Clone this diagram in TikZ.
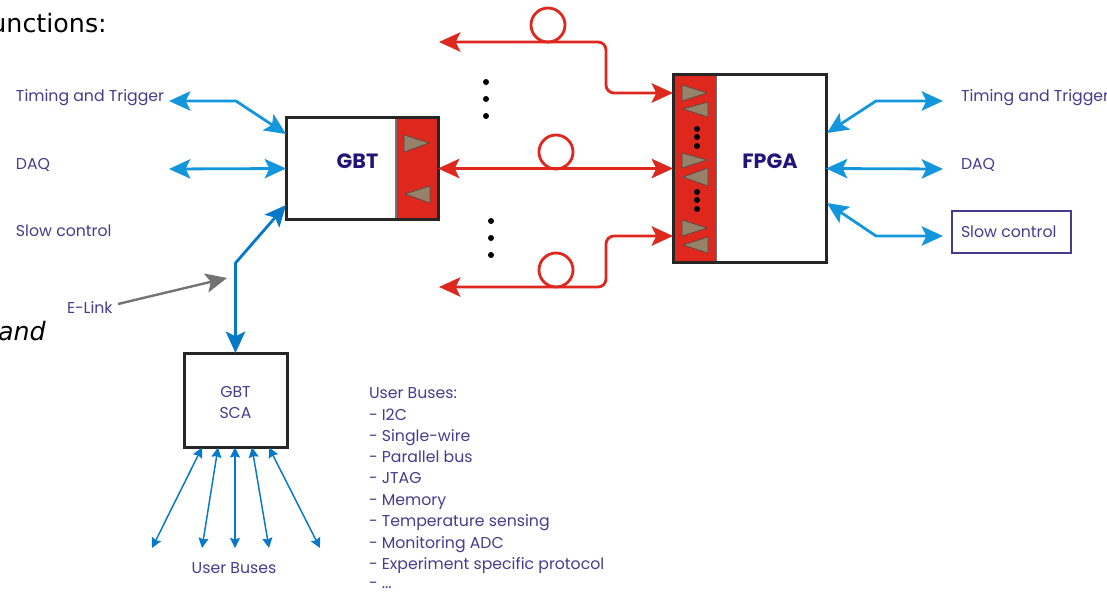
\documentclass[tikz,border=0pt]{standalone}
\usepackage{fontspec}
\setmainfont{Poppins}
\newfontfamily\slidefont{DejaVu Sans}
\usetikzlibrary{arrows.meta}
\definecolor{bluea}{RGB}{20,150,220}
\definecolor{blueb}{RGB}{5,120,200}
\definecolor{redl}{RGB}{222,40,30}
\definecolor{inkc}{RGB}{72,58,140}
\definecolor{titlec}{RGB}{35,20,120}
\definecolor{trif}{RGB}{150,130,105}
\tikzset{
  x=0.75pt,y=-0.75pt,
  hd/.tip={Stealth[length=16pt,width=14.5pt,inset=3.5pt]},
  boxn/.style={draw=black!85,line width=2.25pt,fill=white,inner sep=0,outer sep=0,rectangle},
  panel/.style={fill=redl,inner sep=0,outer sep=0,rectangle},
  lab/.style={text=inkc,inner sep=0,outer sep=0,anchor=base west,font=\fontsize{11.8}{13}\selectfont},
  ttl/.style={text=titlec,inner sep=0,outer sep=0,anchor=base,font=\fontsize{15.5}{17}\selectfont\bfseries},
  big/.style={line width=2.1pt,-hd},
  bigb/.style={line width=2.1pt,hd-hd},
  thin bus/.style={draw=blueb,line width=1.1pt,{Stealth[length=7.5pt,width=7.5pt,inset=1pt]}-{Stealth[length=7.5pt,width=7.5pt,inset=1pt]}},
  coil/.style={circle,draw=redl,line width=2.1pt,minimum size=34*0.75pt,inner sep=0,outer sep=0},
  tri/.style={fill=trif,draw=black!70,line width=0.5pt,line join=miter},
  dotn/.style={circle,fill=black,inner sep=0,outer sep=0,minimum size=4.5pt},
}
\begin{document}
\begin{tikzpicture}
\clip (0,0) rectangle (1107,592);
% slide fragments
\node[anchor=base east,inner sep=0,font=\slidefont\fontsize{19}{22}\selectfont] (frag1) at (107,33) {unctions:};
\node[anchor=base east,inner sep=0,font=\slidefont\fontsize{19}{22}\selectfont\itshape] (frag2) at (46,340) {and};
% boxes
\node[boxn,minimum width=152*0.75pt,minimum height=101*0.75pt] (gbt) at (362,168.5) {};
\node[panel,minimum width=41*0.75pt,minimum height=98*0.75pt] (gbtp) at (416.5,168.5) {};
\draw[black!55,line width=0.8pt] (gbtp.north west) -- (gbtp.south west);
\node[boxn,minimum width=153*0.75pt,minimum height=187*0.75pt] (fpga) at (749.5,168.5) {};
\node[panel,minimum width=42*0.75pt,minimum height=184*0.75pt] (fpgap) at (695.5,168.5) {};
\draw[black!55,line width=0.8pt] (fpgap.north east) -- (fpgap.south east);
\node[boxn,minimum width=103*0.75pt,minimum height=94*0.75pt] (sca) at (235.5,400) {};
\node[draw=inkc,line width=1pt,inner sep=0,outer sep=0,minimum width=119*0.75pt,minimum height=42*0.75pt] (slowbox) at (1011.5,232) {};
% triangles
\draw[tri] (404,135) -- (429,143) -- (404,152) -- cycle;
\draw[tri] (430,186) -- (405,194) -- (430,203) -- cycle;
\draw[tri] (682,85) -- (707,93) -- (682,101) -- cycle;
\draw[tri] (708,102) -- (683,109) -- (708,117) -- cycle;
\draw[tri] (682,153) -- (707,160) -- (682,168) -- cycle;
\draw[tri] (708,168) -- (683,177) -- (708,186) -- cycle;
\draw[tri] (682,220) -- (707,228) -- (682,236) -- cycle;
\draw[tri] (708,237) -- (683,245) -- (708,253) -- cycle;
\foreach \n/\x/\y in {p1/697/129,p2/697/137,p3/697/146,p4/697/192,p5/697/200,p6/697/209,
  q1/486/82,q2/486/99,q3/486/116,q4/491/221,q5/491/238,q6/491/255}
  \node[dotn] (\n) at (\x,\y) {};
% text
\node[ttl] (gbtt) at (357.5,168) {GBT};
\node[ttl] (fpgat) at (770,168) {FPGA};
\node[lab,anchor=base] (scaa) at (235.5,397) {GBT};
\node[lab,anchor=base] (scab) at (235.5,418) {SCA};
\node[lab] (ltt) at (16,102) {Timing and Trigger};
\node[lab] (ldaq) at (16,169) {DAQ};
\node[lab] (lsc) at (16,236.5) {Slow control};
\node[lab] (elink) at (67,313) {E-Link};
\node[lab] (rtt) at (961,102) {Timing and Trigger};
\node[lab] (rdaq) at (961,169) {DAQ};
\node[lab] (rsc) at (961,237) {Slow control};
\node[lab,anchor=base] (ub) at (234,573) {User Buses};
\foreach \n/\y/\t in {u0/398/{User Buses:},u1/420/{- I2C},u2/441/{- Single-wire},u3/462/{- Parallel bus},u4/483/{- JTAG},u5/505/{- Memory},u6/526/{- Temperature sensing},u7/548/{- Monitoring ADC},u8/569/{- Experiment specific protocol},u9/588/{- ...}}
  \node[lab] (\n) at (369,\y) {\t};
% named free ends
\coordinate (lt) at (169,101); \coordinate (ltb) at (236,101); \coordinate (gt) at (286,134);
\coordinate (ld) at (169,169);
\coordinate (sb) at (235.5,263); \coordinate (gs) at (286,205);
\coordinate (es) at (118,304); \coordinate (et) at (227,278);
\coordinate (ft) at (827,133); \coordinate (rtb) at (876,101); \coordinate (rte) at (943,101);
\coordinate (rd) at (943,169);
\coordinate (fs) at (827,203); \coordinate (rsb) at (876,236); \coordinate (rse) at (943,236);
% blue connectors
\draw[bigb,bluea] (lt) -- (ltb) -- (gt);
\draw[bigb,bluea] (ld) -- (gbt.west);
\draw[bigb,blueb,line join=round] (sca.north) -- (sb) -- (gs);
\draw[bigb,bluea] (ft) -- (rtb) -- (rte);
\draw[bigb,bluea] (fpga.east) -- (rd);
\draw[bigb,bluea] (fs) -- (rsb) -- (rse);
\draw[big,black!55,line width=1.8pt] (es) -- (et);
% user bus arrows
\foreach \n/\a/\b in {b1/202/152,b2/218/202,b3/235/235,b4/252/269,b5/269/320}{
  \coordinate (\n s) at (\a,447.5);
  \coordinate (\n e) at (\b,548);
  \draw[thin bus] (\n s) -- (\n e);
}
% red fibres
\coordinate (r1l) at (439,42); \coordinate (r1a) at (606,42); \coordinate (r1b) at (606,93); \coordinate (r1t) at (673,93);
\coordinate (r3l) at (439,287); \coordinate (r3a) at (606,287); \coordinate (r3b) at (606,236); \coordinate (r3t) at (673,236);
\draw[bigb,redl,rounded corners=6pt] (r1l) -- (r1a) -- (r1b) -- (r1t);
\draw[bigb,redl] (gbt.east) -- (fpga.west);
\draw[bigb,redl,rounded corners=6pt] (r3l) -- (r3a) -- (r3b) -- (r3t);
\node[coil] (c1) at (548,25) {};
\node[coil] (c2) at (556,152) {};
\node[coil] (c3) at (556,270) {};
\end{tikzpicture}
\end{document}
